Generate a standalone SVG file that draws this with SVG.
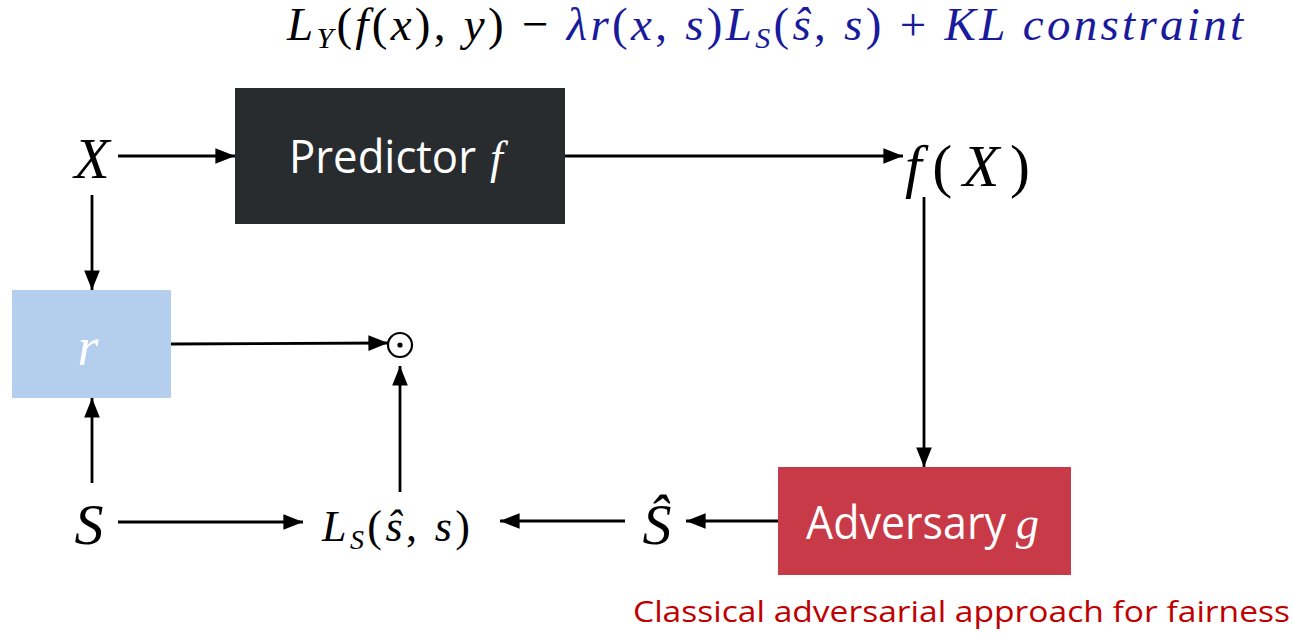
<svg xmlns="http://www.w3.org/2000/svg" width="1294" height="634" viewBox="0 0 1294 634">
<defs>
<marker id="ah" markerWidth="7" markerHeight="5.6" refX="7" refY="2.8" orient="auto" markerUnits="strokeWidth">
<path d="M0,0 L7,2.8 L0,5.6 Z" fill="#000"/>
</marker>
<style>
.m{font-family:"Liberation Serif","DejaVu Serif",serif;font-style:italic}
.u{font-family:"Liberation Serif","DejaVu Serif",serif;font-style:normal}
.lbl{font-family:"Open Sans","Noto Sans","Liberation Sans",sans-serif;fill:#fff}
.w{fill:#fff}
.c{stroke:#000;stroke-width:2.8;fill:none;marker-end:url(#ah)}
</style>
</defs>
<rect width="1294" height="634" fill="#fff"/>
<g id="formula">
<text x="287" y="40" class="m" font-size="47" fill="#000" textLength="956" lengthAdjust="spacing"><tspan>L</tspan><tspan font-size="30" dy="8">Y</tspan><tspan dy="-8" class="u">(</tspan>f<tspan class="u">(</tspan>x<tspan class="u">), </tspan>y<tspan class="u">) − </tspan><tspan fill="#1a1a9c">λr<tspan class="u">(</tspan>x<tspan class="u">, </tspan>s<tspan class="u">)</tspan>L<tspan font-size="30" dy="8">S</tspan><tspan dy="-8" class="u">(</tspan>ŝ<tspan class="u">, </tspan>s<tspan class="u">) + </tspan>KL constraint</tspan></text>
</g>
<g id="X"><text x="92" y="178" class="m" font-size="58" text-anchor="middle" fill="#000">X</text></g>
<g id="predictor">
<rect x="235" y="88" width="330" height="136" fill="#282c2f"/>
<text x="289" y="173" class="lbl" font-size="45" textLength="187" lengthAdjust="spacingAndGlyphs">Predictor</text>
<text x="490" y="173" class="m w" font-size="46">f</text>
</g>
<g id="fX"><text x="905" y="186" class="m" font-size="60" fill="#000" textLength="125" lengthAdjust="spacing">f<tspan class="u">(</tspan>X<tspan class="u">)</tspan></text></g>
<g id="r">
<rect x="12" y="290" width="159" height="108" fill="#b4cfee"/>
<text x="88" y="365" class="m w" font-size="54" text-anchor="middle">r</text>
</g>
<g id="odot">
<circle cx="400" cy="345" r="12" fill="none" stroke="#000" stroke-width="2.2"/>
<circle cx="400" cy="345" r="2.6" fill="#000"/>
</g>
<g id="S"><text x="89" y="544" class="m" font-size="58" text-anchor="middle" fill="#000">S</text></g>
<g id="LS"><text x="322" y="541" class="m" font-size="44" fill="#000" textLength="148" lengthAdjust="spacing">L<tspan font-size="28" dy="8">S</tspan><tspan dy="-8" class="u">(</tspan>ŝ<tspan class="u">, </tspan>s<tspan class="u">)</tspan></text></g>
<g id="Shat"><text x="657" y="544" class="m" font-size="58" text-anchor="middle" fill="#000">Ŝ</text></g>
<g id="adversary">
<rect x="778" y="467" width="293" height="108" fill="#c83a47"/>
<text x="806" y="539" class="lbl" font-size="45" textLength="200" lengthAdjust="spacingAndGlyphs">Adversary</text>
<text x="1016" y="539" class="m w" font-size="46">g</text>
</g>
<g id="caption"><text x="633" y="622" font-family="'Open Sans','Noto Sans','Liberation Sans',sans-serif" font-size="30" fill="#c00000" textLength="657" lengthAdjust="spacingAndGlyphs">Classical adversarial approach for fairness</text></g>
<g id="connectors">
<line x1="118" y1="156" x2="235" y2="156" class="c"/>
<line x1="565" y1="156" x2="903" y2="156" class="c"/>
<line x1="92" y1="195" x2="92" y2="290" class="c"/>
<line x1="171" y1="344" x2="388" y2="343" class="c"/>
<line x1="92" y1="483" x2="92" y2="398" class="c"/>
<line x1="118" y1="522" x2="303" y2="522" class="c"/>
<line x1="400" y1="492" x2="400" y2="366" class="c"/>
<line x1="924" y1="197" x2="924" y2="467" class="c"/>
<line x1="778" y1="521" x2="686" y2="521" class="c"/>
<line x1="625" y1="521" x2="500" y2="521" class="c"/>
</g>
</svg>
